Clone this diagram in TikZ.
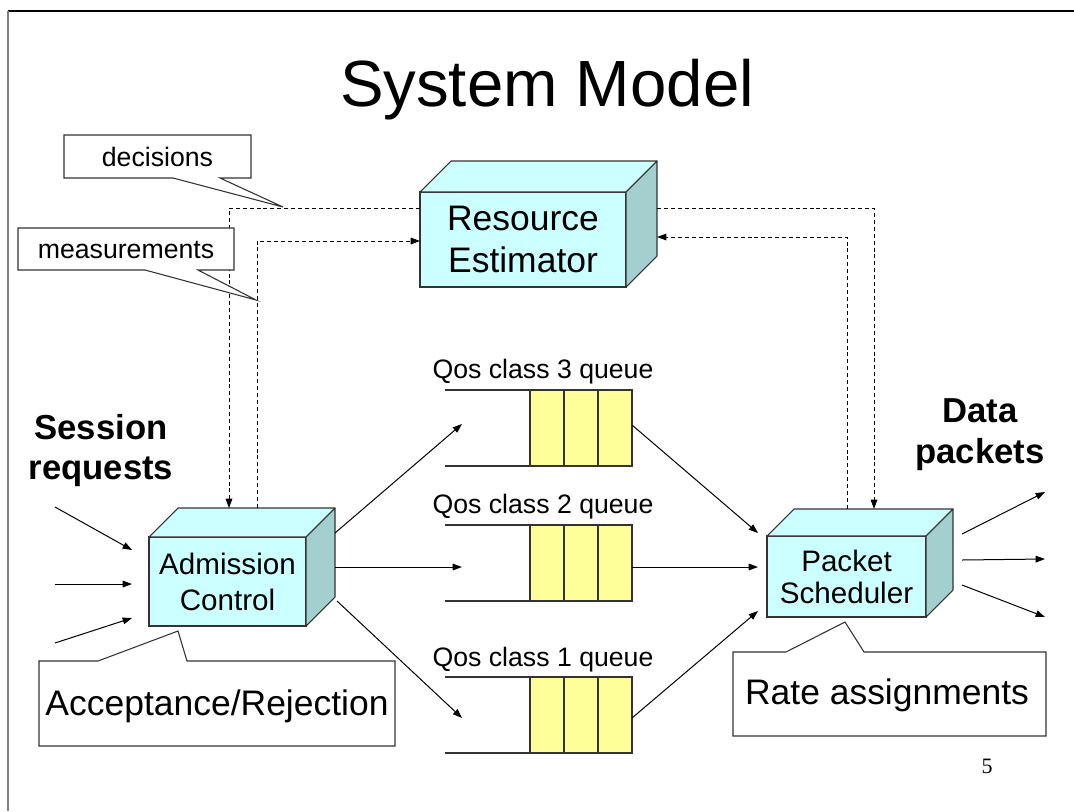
\documentclass[tikz,border=0pt]{standalone}
\usepackage{fontspec}
\setmainfont{Liberation Sans}
\newfontfamily\pagenumfont{Liberation Serif}
\usetikzlibrary{arrows.meta}

\definecolor{boxfront}{HTML}{CCFFFF}
\definecolor{boxside}{HTML}{A3CFCF}
\definecolor{qfill}{HTML}{FFFF99}
\definecolor{edgecol}{HTML}{333333}

\def\px{0.75pt}

% top and side faces of a box whose front face is node #1, depth #2 (px)
\newcommand\boxfaces[2]{%
  \coordinate (#1-bnw) at ([shift={(#2,-#2)}]#1.north west);
  \coordinate (#1-bne) at ([shift={(#2,-#2)}]#1.north east);
  \coordinate (#1-bse) at ([shift={(#2,-#2)}]#1.south east);
  \draw[topface] (#1.north west) -- (#1-bnw) -- (#1-bne) -- (#1.north east) -- cycle;
  \draw[sideface] (#1.north east) -- (#1-bne) -- (#1-bse) -- (#1.south east) -- cycle;
}

% a queue: yellow cell block #1 with three cells and open channel lines
\newcommand\queuelines[1]{%
  \draw[qline] ([xshift=34*\px]#1.north west) -- ([xshift=34*\px]#1.south west);
  \draw[qline] ([xshift=-34*\px]#1.north east) -- ([xshift=-34*\px]#1.south east);
  \draw[qline] (#1.north west) -- ++(-85,0);
  \draw[qline] (#1.south west) -- ++(-85,0);
}

\begin{document}
\begin{tikzpicture}[x=0.75pt,y=-0.75pt,
  every node/.style={inner sep=0pt, outer sep=0pt},
  front/.style={draw=edgecol, fill=boxfront, line width=0.8pt, align=center},
  topface/.style={draw=edgecol, fill=boxfront, line width=0.8pt, line join=round},
  sideface/.style={draw=edgecol, fill=boxside, line width=0.8pt, line join=round},
  queue/.style={draw=edgecol, fill=qfill, line width=0.8pt,
    minimum width=102*\px, minimum height=76*\px},
  qline/.style={draw=edgecol, line width=0.8pt},
  flow/.style={line width=0.75pt, -{Triangle[length=7pt,width=5pt]}},
  ctrl/.style={line width=0.75pt, dash pattern=on 3pt off 2.2pt},
  ctrlarrow/.style={ctrl, -{Triangle[length=7pt,width=5pt]}},
  callout/.style={draw=edgecol, fill=white, line width=0.8pt, line join=miter},
  bigtext/.style={font=\fontsize{26.6pt}{32pt}\selectfont},
  midtext/.style={font=\fontsize{22.2pt}{26pt}\selectfont},
  smalltext/.style={font=\fontsize{20pt}{24pt}\selectfont},
  boldtext/.style={font=\fontsize{26pt}{31pt}\selectfont\bfseries},
]
\useasboundingbox (0,0) rectangle (1074,811);

% slide frame
\draw[black, line width=1pt] (8,11) -- (1074,11);
\draw[black!50, line width=0.9pt] (8,11) -- (8,811);

% title
\node[anchor=base, font=\fontsize{49pt}{59pt}\selectfont] (title) at (547,106) {System Model};

% boxes
\node[front, bigtext, minimum width=206*\px, minimum height=95*\px] (re) at (523,239.5)
  {Resource\\[-0.5pt]Estimator};
\boxfaces{re}{31}
\node[front, midtext, minimum width=157*\px, minimum height=89*\px] (ac) at (227.5,581.5)
  {Admission\\[1pt]Control};
\boxfaces{ac}{29}
\node[front, midtext, minimum width=159*\px, minimum height=81*\px] (ps) at (846.5,576.5)
  {Packet\\[-2pt]Scheduler};
\boxfaces{ps}{27}

% queues
\node[queue] (q3) at (581,428) {};
\queuelines{q3}
\node[queue] (q2) at (581,563) {};
\queuelines{q2}
\node[queue] (q1) at (581,715) {};
\queuelines{q1}
\node[smalltext, anchor=base] (q3lab) at (543,378) {Qos class 3 queue};
\node[smalltext, anchor=base] (q2lab) at (543,513) {Qos class 2 queue};
\node[smalltext, anchor=base] (q1lab) at (543,666) {Qos class 1 queue};

% side labels
\node[boldtext, anchor=base] (sess1) at (101,439) {Session};
\node[boldtext, anchor=base] (sess2) at (101,479) {requests};
\node[boldtext, anchor=base] (data1) at (980,422) {Data};
\node[boldtext, anchor=base] (data2) at (980,463) {packets};

% session requests into admission control
\coordinate (in1) at (55,507);
\coordinate (in2) at (55,584);
\coordinate (in3) at (55,643);
\draw[flow] (in1) -- ([shift={(-17,-31.5)}]ac.west);
\draw[flow] (in2) -- ([shift={(-17,2.5)}]ac.west);
\draw[flow] (in3) -- ([shift={(-17,36.5)}]ac.west);

% admission control into the queues
\coordinate (q3in) at (462,424);
\coordinate (q2in) at (462,567);
\coordinate (q1in) at (462,718);
\draw[flow] ([shift={(0,25)}]ac-bne) -- (q3in);
\draw[flow] ([shift={(0,59)}]ac-bne) -- (q2in);
\draw[flow] ([shift={(2,4)}]ac-bse) -- (q1in);

% queues into the packet scheduler
\draw[flow] ([shift={(0,-3)}]q3.east) -- ([shift={(-9,-43.5)}]ps.west);
\draw[flow] ([shift={(0,4)}]q2.east) -- ([shift={(-9,-9.5)}]ps.west);
\draw[flow] ([shift={(0,3)}]q1.east) -- ([shift={(-9,34.5)}]ps.west);

% data packets out of the scheduler
\coordinate (out1) at (1045,492);
\coordinate (out2) at (1045,559);
\coordinate (out3) at (1045,617);
\draw[flow] ([shift={(9,25)}]ps-bne) -- (out1);
\draw[flow] ([shift={(9,51)}]ps-bne) -- (out2);
\draw[flow] ([shift={(9,76)}]ps-bne) -- (out3);

% control loops through the resource estimator
\coordinate (decL) at (229,208);
\coordinate (measL) at (257,241);
\coordinate (decR) at (874,208);
\coordinate (measR) at (847,237);
\draw[ctrlarrow] (re.west |- decL) -- (decL) -- (decL |- ac-bnw);
\draw[ctrlarrow] (measL |- ac-bnw) -- (measL) -- (measL -| re.west);
\draw[ctrlarrow] (decR -| re-bne) -- (decR) -- (decR |- ps-bnw);
\draw[ctrlarrow] (measR |- ps-bnw) -- (measR) -- (measR -| re-bne);

% callouts
\node[smalltext, minimum width=187*\px, minimum height=43*\px] (dec) at (157.5,156.5) {};
\draw[callout] (dec.south west) -- (dec.north west) -- (dec.north east) -- (dec.south east)
  -- (220,178) -- (283,207) -- (173,178) -- cycle;
\node[smalltext, anchor=base] (dectext) at (157.5,166) {decisions};

\node[smalltext, minimum width=216*\px, minimum height=42*\px] (meas) at (126,249) {};
\draw[callout] (meas.south west) -- (meas.north west) -- (meas.north east) -- (meas.south east)
  -- (198,270) -- (256,300) -- (145,270) -- cycle;
\node[smalltext, anchor=base] (meastext) at (126,258) {measurements};

\node[bigtext, minimum width=356*\px, minimum height=85*\px] (acc) at (217,703.5) {};
\draw[callout] (acc.north west) -- (98,661) -- (178,631) -- (187,661) -- (acc.north east)
  -- (acc.south east) -- (acc.south west) -- cycle;
\node[bigtext, anchor=base] (acctext) at (217,715) {Acceptance/Rejection};

\node[bigtext, minimum width=313*\px, minimum height=84*\px] (rate) at (889.5,694) {};
\draw[callout] (rate.north west) -- (786,652) -- (845,622) -- (864,652) -- (rate.north east)
  -- (rate.south east) -- (rate.south west) -- cycle;
\node[bigtext, anchor=base] (ratetext) at (887,704) {Rate assignments};

% page number
\node[anchor=base, font=\pagenumfont\fontsize{16.5pt}{20pt}\selectfont] (pagenum) at (987,773) {5};
\end{tikzpicture}
\end{document}
